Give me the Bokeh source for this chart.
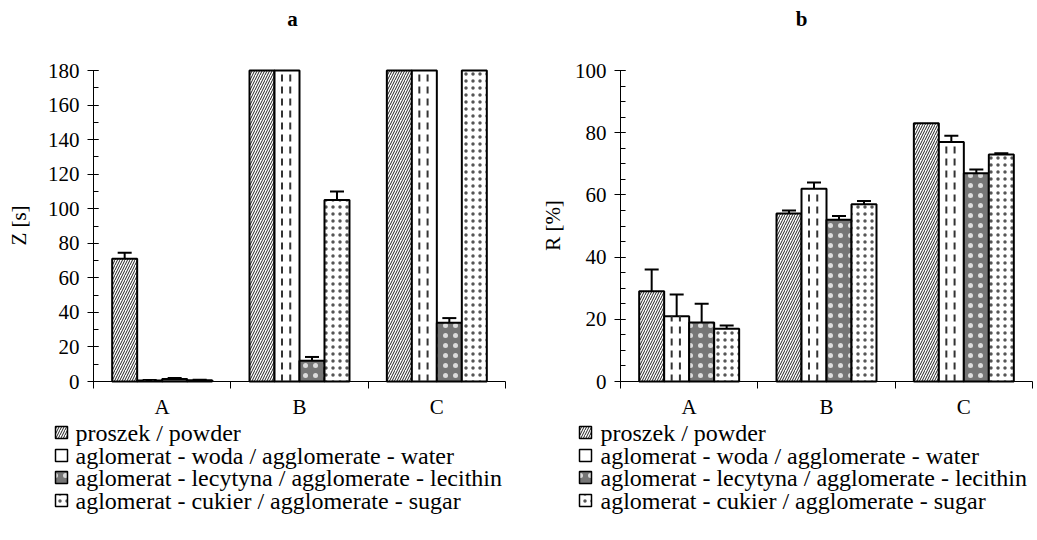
import math
from bokeh.plotting import figure
from bokeh.models import Range1d, FixedTicker, ColumnDataSource, Whisker, TeeHead
from bokeh.layouts import row
from bokeh.embed import file_html
from bokeh.resources import INLINE
from bokeh.core.properties import value

# ---------------- data ----------------
categories = ["A", "B", "C"]
series = [
    "proszek / powder",
    "aglomerat - woda / agglomerate - water",
    "aglomerat - lecytyna / agglomerate - lecithin",
    "aglomerat - cukier / agglomerate - sugar",
]

# panel a: Z [s]
z_powder = [71, 180, 180]
z_water = [0.6, 180, 180]
z_lecithin = [1.5, 12, 34]
z_sugar = [0.7, 105, 180]
z_powder_err = [3.5, 0, 0]
z_water_err = [0.3, 0, 0]
z_lecithin_err = [0.5, 2.2, 2.7]
z_sugar_err = [0.3, 5, 0]
z_ticks = [0, 20, 40, 60, 80, 100, 120, 140, 160, 180]
z_minor = [0, 10, 20, 30, 40, 50, 60, 70, 80, 90, 100, 110, 120, 130, 140, 150, 160, 170, 180]

# panel b: R [%]
r_powder = [29, 54, 83]
r_water = [21, 62, 77]
r_lecithin = [19, 52, 67]
r_sugar = [17, 57, 73]
r_powder_err = [7, 1, 0]
r_water_err = [7, 2, 2]
r_lecithin_err = [6, 1.2, 1.2]
r_sugar_err = [1, 1, 0.4]
r_ticks = [0, 20, 40, 60, 80, 100]
r_minor = [0, 5, 10, 15, 20, 25, 30, 35, 40, 45, 50, 55, 60, 65, 70, 75, 80, 85, 90, 95, 100]

FONT = "Liberation Serif"

styles = [
    dict(fill_color="white", hatch_pattern="right_diagonal_line", hatch_color="#222222",
         hatch_scale=5, hatch_weight=1),
    dict(fill_color="white"),
    dict(fill_color="#767676", hatch_pattern="dot", hatch_color="#dcdcdc",
         hatch_scale=10, hatch_weight=0.8),
    dict(fill_color="white", hatch_pattern="dot", hatch_color="#555555",
         hatch_scale=7, hatch_weight=1.2),
]

BAR_W = 0.182
FIG_H = 518


def make_panel(values, errors, ymax, ticks, minor, ylabel, title, width,
               ax_left, ax_right, ax_top, ax_bottom,
               ylabel_px, title_px, icon_px, text_px):
    ncat = len(categories)
    x0, x1 = -0.5, ncat - 0.5
    xpp = (x1 - x0) / (ax_right - ax_left)          # data units per pixel
    ypp = ymax / (ax_bottom - ax_top)
    xs_start = x0 - ax_left * xpp
    xs_end = x0 + (width - ax_left) * xpp
    ys_end = ymax + ax_top * ypp
    ys_start = 0 - (FIG_H - ax_bottom) * ypp

    def px_x(px):
        return xs_start + px * xpp

    def px_y(py):
        return ys_end - py * ypp

    p = figure(width=width, height=FIG_H, x_range=Range1d(xs_start, xs_end),
               y_range=Range1d(ys_start, ys_end), output_backend="svg",
               toolbar_location=None, min_border_left=0, min_border_right=0,
               min_border_top=0, min_border_bottom=0)
    p.outline_line_color = None
    p.xgrid.visible = False
    p.ygrid.visible = False

    n = len(values)
    for k in range(n):
        xs = [i + (k - (n - 1) / 2) * BAR_W for i in range(ncat)]
        p.vbar(x=xs, top=values[k], bottom=0, width=BAR_W, line_color="black",
               line_width=2, **styles[k])
        if k == 1:
            for f in (-0.2, 0.13):
                p.segment(x0=[x + f * BAR_W for x in xs], y0=[0] * ncat,
                          x1=[x + f * BAR_W for x in xs], y1=values[k],
                          line_color="#333333", line_width=2, line_dash="7 5")
        keep = [i for i in range(ncat) if errors[k][i] > 0]
        if keep:
            src = ColumnDataSource(dict(
                x=[xs[i] for i in keep],
                up=[values[k][i] + errors[k][i] for i in keep],
                lo=[values[k][i] - errors[k][i] for i in keep]))
            p.add_layout(Whisker(source=src, base="x", upper="up", lower="lo",
                                 line_color="black", line_width=2,
                                 upper_head=TeeHead(size=14, line_width=2, line_color="black"),
                                 lower_head=TeeHead(size=14, line_width=2, line_color="black")))

    # x axis: labels at category centres, ticks at category boundaries
    xa = p.xaxis[0]
    xa.fixed_location = 0
    xa.bounds = (x0, x1)
    xa.ticker = FixedTicker(ticks=list(range(ncat)),
                            minor_ticks=[i - 0.5 for i in range(ncat + 1)])
    xa.major_label_overrides = {i: c for i, c in enumerate(categories)}
    xa.major_tick_in = 0
    xa.major_tick_out = 0
    xa.minor_tick_in = 0
    xa.minor_tick_out = 7
    xa.major_label_standoff = 6

    ya = p.yaxis[0]
    ya.fixed_location = x0
    ya.bounds = (0, ymax)
    ya.ticker = FixedTicker(ticks=ticks, minor_ticks=minor)
    ya.major_tick_in = 5
    ya.major_tick_out = 6
    ya.minor_tick_in = 5
    ya.minor_tick_out = 0
    ya.major_label_standoff = 8

    for ax in (xa, ya):
        ax.axis_line_color = "black"
        ax.major_tick_line_color = "black"
        ax.minor_tick_line_color = "black"
        ax.major_label_text_font = FONT
        ax.major_label_text_font_size = "21px"
        ax.major_label_text_color = "black"

    # title and y-axis label
    p.text(x=[px_x(title_px[0])], y=[px_y(title_px[1])], text=[title],
           text_font=value(FONT), text_font_size="21px", text_font_style="bold",
           text_align="center", text_baseline="middle", text_color="black")
    p.text(x=[px_x(ylabel_px[0])], y=[px_y(ylabel_px[1])], text=[ylabel],
           angle=math.pi / 2, text_font=value(FONT), text_font_size="21px",
           text_align="center", text_baseline="middle", text_color="black")

    # legend
    rows_py = [432, 455, 477, 500]
    for k in range(len(series)):
        p.rect(x=[px_x(icon_px)], y=[px_y(rows_py[k])], width=12, height=12,
               width_units="screen", height_units="screen", line_color="black",
               line_width=1.5, **styles[k])
    p.text(x=[px_x(text_px)] * len(series), y=[px_y(py) for py in rows_py], text=series,
           text_font=value(FONT), text_font_size="24px", text_baseline="middle",
           text_color="black")
    return p


# panel a occupies page x 0..525, panel b 525..1037 (coordinates below are local pixels)
pa = make_panel([z_powder, z_water, z_lecithin, z_sugar],
                [z_powder_err, z_water_err, z_lecithin_err, z_sugar_err],
                180, z_ticks, z_minor, "Z [s]", "a", 525,
                93, 505, 70, 381, (18, 225), (292, 18), 61, 75)
pb = make_panel([r_powder, r_water, r_lecithin, r_sugar],
                [r_powder_err, r_water_err, r_lecithin_err, r_sugar_err],
                100, r_ticks, r_minor, "R [%]", "b", 512,
                95, 507, 70, 381, (27, 225), (276, 18), 60, 75)

layout = row(pa, pb, spacing=0)
open("out.html", "w").write(file_html(layout, INLINE))
